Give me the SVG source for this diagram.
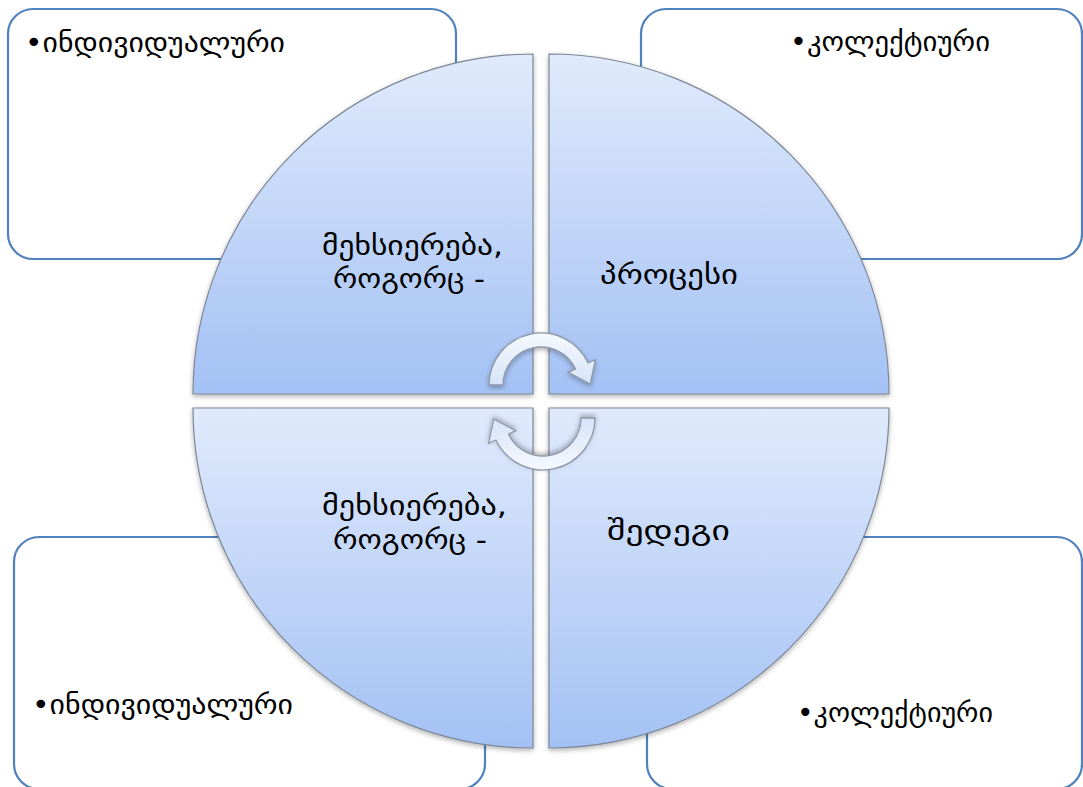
<svg xmlns="http://www.w3.org/2000/svg" width="1083" height="787" viewBox="0 0 1083 787">
<defs>
<linearGradient id="qg" x1="0" y1="0" x2="0" y2="1">
<stop offset="0" stop-color="#e0eafc"/>
<stop offset="1" stop-color="#a3c1f4"/>
</linearGradient>
<linearGradient id="ag" x1="0" y1="0" x2="0" y2="1">
<stop offset="0" stop-color="#f6f9fe"/>
<stop offset="1" stop-color="#d6e3f8"/>
</linearGradient>
<filter id="sh" x="-10%" y="-10%" width="120%" height="120%">
<feDropShadow dx="0" dy="2" stdDeviation="2.5" flood-color="#000" flood-opacity="0.3"/>
</filter>
</defs>
<style>
.box{fill:#fff;stroke:#4f81bd;stroke-width:2.2}
.q{fill:url(#qg);stroke:#7d8796;stroke-width:1.2;filter:url(#sh)}
.arr{fill:url(#ag);stroke:#8d97a6;stroke-width:1.3;filter:url(#sh)}
.bt{font-family:"DejaVu Sans",sans-serif;font-size:28px;fill:#000}
.ct{font-family:"DejaVu Sans",sans-serif;font-size:27px;fill:#000;text-anchor:middle}
</style>
<g id="box-tl">
<rect class="box" x="8" y="9" width="448" height="250" rx="25"/>
<text class="bt" x="25" y="52" textLength="260" lengthAdjust="spacingAndGlyphs">•ინდივიდუალური</text>
</g>
<g id="box-tr">
<rect class="box" x="641" y="9" width="441" height="250" rx="25"/>
<text class="bt" x="790" y="51" textLength="200" lengthAdjust="spacingAndGlyphs">•კოლექტიური</text>
</g>
<g id="box-bl">
<rect class="box" x="14" y="537" width="471" height="252" rx="25"/>
<text class="bt" x="32" y="714" textLength="261" lengthAdjust="spacingAndGlyphs">•ინდივიდუალური</text>
</g>
<g id="box-br">
<rect class="box" x="647" y="537" width="435" height="252" rx="25"/>
<text class="bt" x="797" y="722" textLength="196" lengthAdjust="spacingAndGlyphs">•კოლექტიური</text>
</g>
<g id="q-tl">
<path class="q" d="M533,394 L193,394 A340,340 0 0 1 533,54 Z"/>
<text class="ct" x="412.5" y="255" textLength="181" lengthAdjust="spacingAndGlyphs">მეხსიერება,</text>
<text class="ct" x="409" y="288" textLength="152" lengthAdjust="spacingAndGlyphs">როგორც -</text>
</g>
<g id="q-tr">
<path class="q" d="M549,394 L549,54 A340,340 0 0 1 889,394 Z"/>
<text class="ct" x="669" y="284" textLength="138" lengthAdjust="spacingAndGlyphs">პროცესი</text>
</g>
<g id="q-bl">
<path class="q" d="M533,408 L533,748 A340,340 0 0 1 193,408 Z"/>
<text class="ct" x="414.5" y="515" textLength="185" lengthAdjust="spacingAndGlyphs">მეხსიერება,</text>
<text class="ct" x="410" y="549" textLength="154" lengthAdjust="spacingAndGlyphs">როგორც -</text>
</g>
<g id="q-br">
<path class="q" d="M549,408 L889,408 A340,340 0 0 1 549,748 Z"/>
<text class="ct" x="668.5" y="540" textLength="123" lengthAdjust="spacingAndGlyphs">შედეგი</text>
</g>
<g id="connectors">
<path class="arr" d="M489,385 A52,52 0 0 1 588.1,363 L595.4,359.6 L590.3,384.1 L568.2,372.3 L575.4,368.9 A38,38 0 0 0 503,385 Z"/>
<path class="arr" transform="rotate(180 542 401.5)" d="M489,385 A52,52 0 0 1 588.1,363 L595.4,359.6 L590.3,384.1 L568.2,372.3 L575.4,368.9 A38,38 0 0 0 503,385 Z"/>
</g>
</svg>
